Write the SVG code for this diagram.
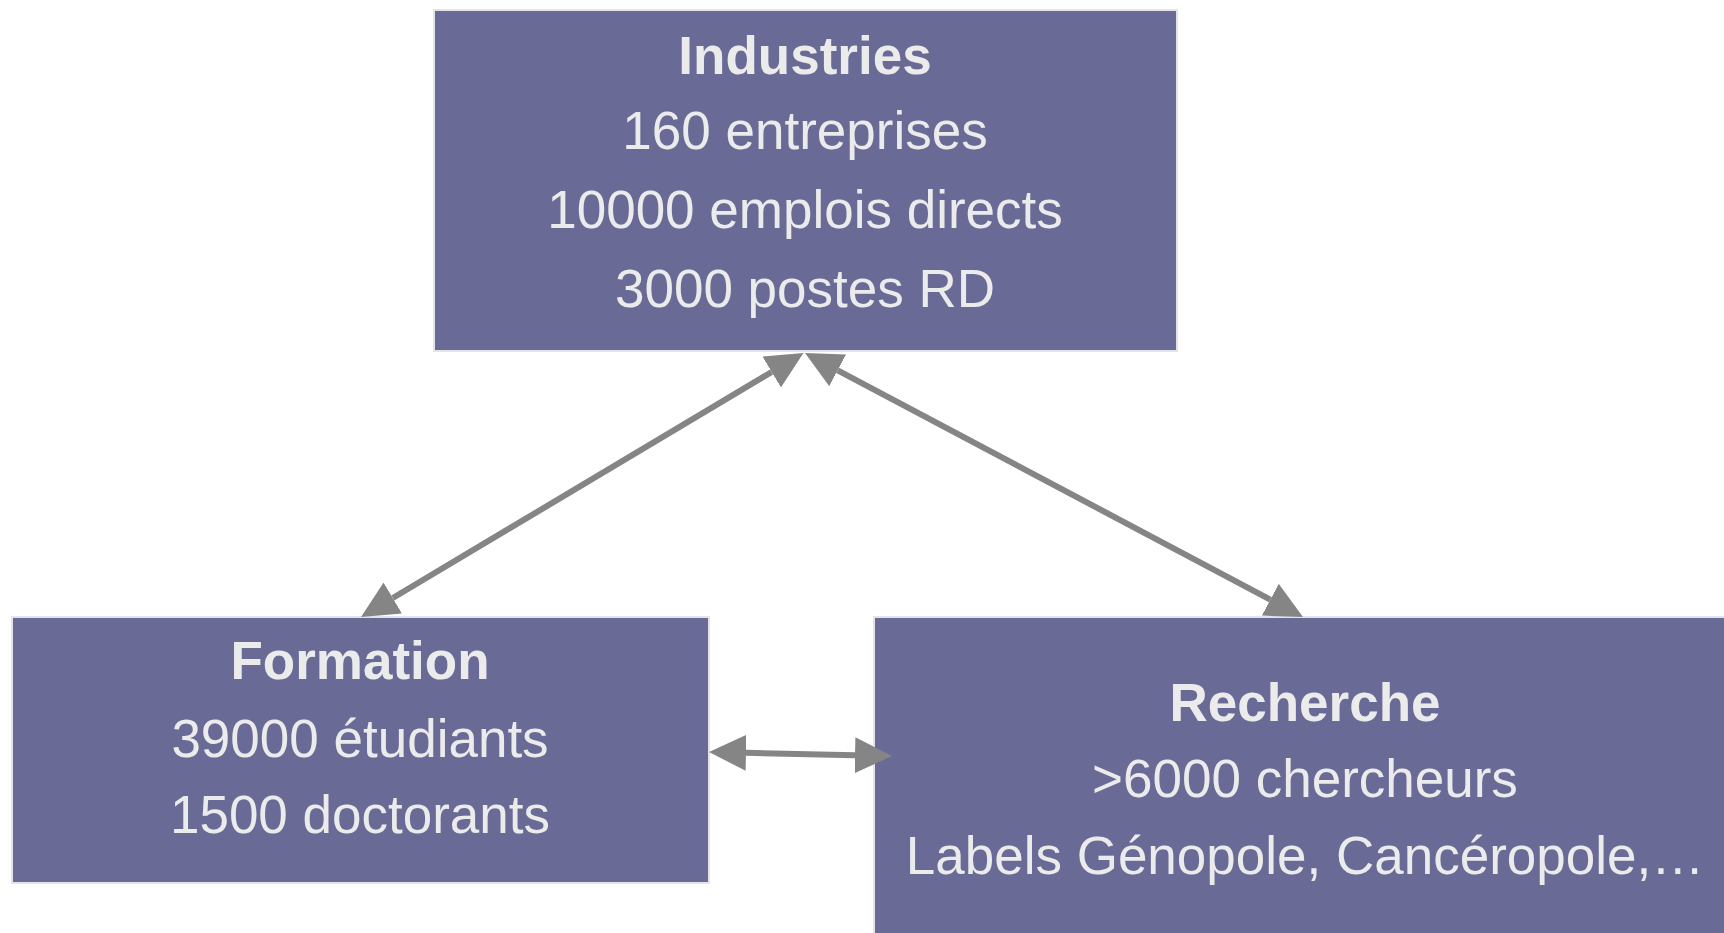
<svg xmlns="http://www.w3.org/2000/svg" width="1724" height="933" viewBox="0 0 1724 933">
<style>
.box{fill:#6a6a97;stroke:#e3e3e8;stroke-width:2}
.t{font-family:"Liberation Sans",Arial,sans-serif;font-size:53px;fill:#ebebeb;text-anchor:middle}
.b{font-weight:bold}
.edge{stroke:#858585;stroke-width:6;fill:none;marker-start:url(#ah);marker-end:url(#ah)}
</style>
<defs>
<marker id="ah" markerUnits="userSpaceOnUse" markerWidth="37" markerHeight="36" viewBox="0 0 37 36" refX="0" refY="18" orient="auto-start-reverse">
<path d="M0,0 L37,18 L0,36 z" fill="#858585"/>
</marker>
</defs>
<rect width="1724" height="933" fill="#ffffff"/>
<g id="industries">
<rect class="box" x="434" y="10" width="743" height="341"/>
<text class="t b" x="805" y="74">Industries</text>
<text class="t" x="805" y="149">160 entreprises</text>
<text class="t" x="805" y="228">10000 emplois directs</text>
<text class="t" x="805" y="307">3000 postes RD</text>
</g>
<g id="formation">
<rect class="box" x="12" y="617" width="697" height="266"/>
<text class="t b" x="360" y="679">Formation</text>
<text class="t" x="360" y="757">39000 étudiants</text>
<text class="t" x="360" y="833">1500 doctorants</text>
</g>
<g id="recherche">
<rect class="box" x="874" y="617" width="862" height="340"/>
<text class="t b" x="1305" y="721">Recherche</text>
<text class="t" x="1305" y="797">&gt;6000 chercheurs</text>
<text class="t" x="1305" y="874">Labels Génopole, Cancéropole,…</text>
</g>
<g id="connectors">
<line class="edge" x1="771.7" y1="372" x2="392.8" y2="598"/>
<line class="edge" x1="837.7" y1="370.3" x2="1270.3" y2="599.7"/>
<line class="edge" x1="746" y1="752.8" x2="855" y2="755.2"/>
</g>
</svg>
